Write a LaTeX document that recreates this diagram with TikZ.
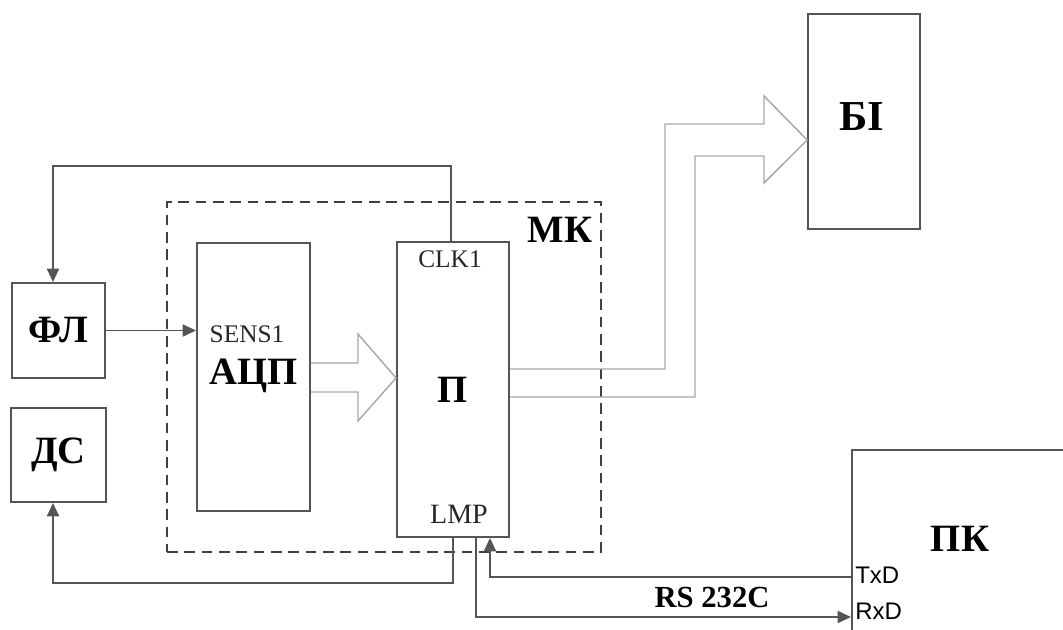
\documentclass[tikz,border=0pt]{standalone}
\usepackage{fontspec}
\setmainfont{Liberation Serif}
\newfontfamily\arialf{Liberation Sans}
\usetikzlibrary{arrows.meta}
\newdimen\pxu \pxu=0.75pt
\definecolor{linec}{HTML}{555555}
\definecolor{hollowc}{HTML}{A8A8A8}
\definecolor{dashc}{HTML}{404040}
\begin{document}
\begin{tikzpicture}[x=0.75pt,y=-0.75pt,
  box/.style={draw=linec, line width=1.4pt, inner sep=0pt},
  big/.style={font=\fontsize{29}{30}\selectfont\bfseries, inner sep=0pt},
  small/.style={font=\fontsize{19}{20}\selectfont, inner sep=0pt, text=black!85},
  sans/.style={font=\arialf\fontsize{18}{19}\selectfont, inner sep=0pt, anchor=west},
  conn/.style={draw=linec, line width=1.3pt},
  arr/.style={conn, -{Triangle[length=10pt,width=9pt]}},
  hollow/.style={draw=hollowc, line width=1.1pt, line join=miter},
  mk/.style={draw=dashc, line width=1.7pt, dash pattern=on 8pt off 5pt, inner sep=0pt}]
\useasboundingbox (0,0) rectangle (1063,630);
% dashed MK frame
\node[mk, minimum width=434\pxu, minimum height=350\pxu] (mkbox) at (384,377) {};
\node[big] (mkt) at (560,230) {МК};
% boxes
\node[box, big, minimum width=93\pxu, minimum height=95\pxu] (fl) at (58.5,330.5) {ФЛ};
\node[box, big, minimum width=95\pxu, minimum height=94\pxu] (ds) at (58.5,455) {ДС};
\node[box, minimum width=113\pxu, minimum height=268\pxu] (adc) at (253.5,377) {};
\node[small] (sens) at (247,334) {SENS1};
\node[big] (adct) at (254,376) {АЦП};
\node[box, minimum width=112\pxu, minimum height=295\pxu] (p) at (453,389.5) {};
\node[small] (clk) at (450,259) {CLK1};
\node[big] (pt) at (453,390) {П};
\node[small, font=\fontsize{21}{22}\selectfont] (lmp) at (459,514) {LMP};
\node[box, minimum width=112\pxu, minimum height=215\pxu] (bi) at (864,121.5) {};
\node[big, font=\fontsize{32}{33}\selectfont\bfseries] (bit) at (862,117) {БІ};
\node[box, anchor=north west, minimum width=260\pxu, minimum height=220\pxu] (pk) at (851,449) {};
\node[big] (pkt) at (960,539) {ПК};
\node[sans] (txd) at (855,575) {TxD};
\node[sans] (rxd) at (855,611) {RxD};
% connectors
\draw[arr] (p.north -| 451,0) |- (53,166) -- (fl.north -| 53,0);
\draw[arr] (fl.east) -- (adc.west |- fl.east);
\draw[arr] (p.south -| 453,0) |- (53,583) -- (ds.south -| 53,0);
\coordinate (txc) at (pk.west |- 0,577);
\coordinate (rxc) at (pk.west |- 0,617);
\draw[arr] (txc) -| (p.south -| 490,0);
\draw[arr] (p.south -| 476,0) |- (rxc);
\node[big, font=\fontsize{23}{24}\selectfont\bfseries] (rs) at (712,597) {RS 232C};
% hollow arrows
\draw[hollow] (adc.east |- 0,363) -- (358,363) -- (358,334) -- (p.west |- 0,378) -- (358,421) -- (358,392) -- (adc.east |- 0,392);
\draw[hollow] (p.east |- 0,369) -- (665,369) -- (665,124) -- (764,124) -- (764,96) -- (bi.west |- 0,140) -- (764,183) -- (764,156) -- (695,156) -- (695,397) -- (p.east |- 0,397);
\end{tikzpicture}
\end{document}
